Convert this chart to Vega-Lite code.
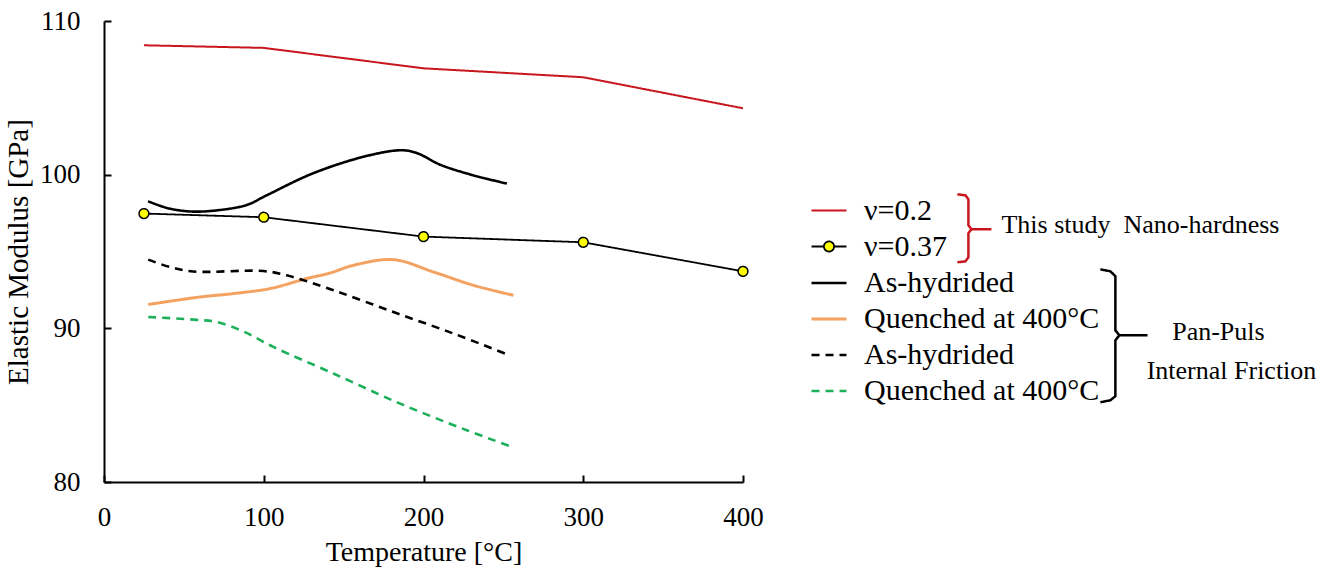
{
  "$schema": "https://vega.github.io/schema/vega-lite/v6.json",
  "width": 639,
  "height": 461,
  "autosize": {"type": "none"},
  "padding": {"left": 104, "top": 21, "right": 579, "bottom": 89},
  "background": "white",
  "config": {"view": {"stroke": null}, "font": "Liberation Serif"},
  "datasets": {
    "curves": [
      {"series": "ν=0.2", "T": 25, "E": 108.42},
      {"series": "ν=0.2", "T": 100, "E": 108.25},
      {"series": "ν=0.2", "T": 200, "E": 106.92},
      {"series": "ν=0.2", "T": 300, "E": 106.34},
      {"series": "ν=0.2", "T": 400, "E": 104.32},
      {"series": "ν=0.37", "T": 25, "E": 97.47},
      {"series": "ν=0.37", "T": 100, "E": 97.23},
      {"series": "ν=0.37", "T": 200, "E": 95.97},
      {"series": "ν=0.37", "T": 300, "E": 95.6},
      {"series": "ν=0.37", "T": 400, "E": 93.71},
      {"series": "As-hydrided (Pan-Puls)", "T": 27.6, "E": 98.27},
      {"series": "As-hydrided (Pan-Puls)", "T": 40.0, "E": 97.82},
      {"series": "As-hydrided (Pan-Puls)", "T": 55.0, "E": 97.6},
      {"series": "As-hydrided (Pan-Puls)", "T": 70.8, "E": 97.68},
      {"series": "As-hydrided (Pan-Puls)", "T": 89.4, "E": 98.03},
      {"series": "As-hydrided (Pan-Puls)", "T": 101.9, "E": 98.66},
      {"series": "As-hydrided (Pan-Puls)", "T": 130.9, "E": 100.09},
      {"series": "As-hydrided (Pan-Puls)", "T": 164.5, "E": 101.22},
      {"series": "As-hydrided (Pan-Puls)", "T": 186.4, "E": 101.59},
      {"series": "As-hydrided (Pan-Puls)", "T": 196.0, "E": 101.4},
      {"series": "As-hydrided (Pan-Puls)", "T": 210.4, "E": 100.65},
      {"series": "As-hydrided (Pan-Puls)", "T": 231.1, "E": 99.96},
      {"series": "As-hydrided (Pan-Puls)", "T": 252.2, "E": 99.42},
      {"series": "Quenched at 400°C (Pan-Puls)", "T": 27.7, "E": 91.55},
      {"series": "Quenched at 400°C (Pan-Puls)", "T": 60.1, "E": 92.04},
      {"series": "Quenched at 400°C (Pan-Puls)", "T": 81.0, "E": 92.26},
      {"series": "Quenched at 400°C (Pan-Puls)", "T": 104.0, "E": 92.59},
      {"series": "Quenched at 400°C (Pan-Puls)", "T": 126.9, "E": 93.24},
      {"series": "Quenched at 400°C (Pan-Puls)", "T": 141.5, "E": 93.6},
      {"series": "Quenched at 400°C (Pan-Puls)", "T": 156.1, "E": 94.1},
      {"series": "Quenched at 400°C (Pan-Puls)", "T": 181.2, "E": 94.47},
      {"series": "Quenched at 400°C (Pan-Puls)", "T": 206.2, "E": 93.67},
      {"series": "Quenched at 400°C (Pan-Puls)", "T": 231.3, "E": 92.8},
      {"series": "Quenched at 400°C (Pan-Puls)", "T": 256.3, "E": 92.15},
      {"series": "As-hydrided (Internal Friction)", "T": 27.7, "E": 94.47},
      {"series": "As-hydrided (Internal Friction)", "T": 41.3, "E": 93.99},
      {"series": "As-hydrided (Internal Friction)", "T": 55.9, "E": 93.7},
      {"series": "As-hydrided (Internal Friction)", "T": 99.8, "E": 93.73},
      {"series": "As-hydrided (Internal Friction)", "T": 114.4, "E": 93.45},
      {"series": "As-hydrided (Internal Friction)", "T": 143.6, "E": 92.48},
      {"series": "As-hydrided (Internal Friction)", "T": 181.2, "E": 91.06},
      {"series": "As-hydrided (Internal Friction)", "T": 218.8, "E": 89.66},
      {"series": "As-hydrided (Internal Friction)", "T": 251.1, "E": 88.36},
      {"series": "Quenched at 400°C (Internal Friction)", "T": 27.7, "E": 90.74},
      {"series": "Quenched at 400°C (Internal Friction)", "T": 58.0, "E": 90.55},
      {"series": "Quenched at 400°C (Internal Friction)", "T": 70.6, "E": 90.41},
      {"series": "Quenched at 400°C (Internal Friction)", "T": 87.2, "E": 89.8},
      {"series": "Quenched at 400°C (Internal Friction)", "T": 106.0, "E": 88.79},
      {"series": "Quenched at 400°C (Internal Friction)", "T": 143.6, "E": 87.06},
      {"series": "Quenched at 400°C (Internal Friction)", "T": 185.4, "E": 85.1},
      {"series": "Quenched at 400°C (Internal Friction)", "T": 227.1, "E": 83.37},
      {"series": "Quenched at 400°C (Internal Friction)", "T": 255.3, "E": 82.29}
    ],
    "redBracket": [
      {"seg": "upper", "ord": 1, "T": 534.2, "E": 98.72},
      {"seg": "upper", "ord": 2, "T": 539.2, "E": 98.66},
      {"seg": "upper", "ord": 3, "T": 541.1, "E": 98.4},
      {"seg": "upper", "ord": 4, "T": 541.1, "E": 96.71},
      {"seg": "upper", "ord": 5, "T": 543.0, "E": 96.45},
      {"seg": "upper", "ord": 6, "T": 555.5, "E": 96.45},
      {"seg": "lower", "ord": 1, "T": 543.0, "E": 96.45},
      {"seg": "lower", "ord": 2, "T": 541.1, "E": 96.19},
      {"seg": "lower", "ord": 3, "T": 541.1, "E": 94.62},
      {"seg": "lower", "ord": 4, "T": 539.2, "E": 94.36},
      {"seg": "lower", "ord": 5, "T": 534.2, "E": 94.3}
    ],
    "blackBracket": [
      {"seg": "upper", "ord": 1, "T": 623.7, "E": 93.84},
      {"seg": "upper", "ord": 2, "T": 630.0, "E": 93.71},
      {"seg": "upper", "ord": 3, "T": 633.1, "E": 93.39},
      {"seg": "upper", "ord": 4, "T": 633.1, "E": 89.87},
      {"seg": "upper", "ord": 5, "T": 635.6, "E": 89.55},
      {"seg": "upper", "ord": 6, "T": 653.2, "E": 89.55},
      {"seg": "lower", "ord": 1, "T": 635.6, "E": 89.55},
      {"seg": "lower", "ord": 2, "T": 633.1, "E": 89.22},
      {"seg": "lower", "ord": 3, "T": 633.1, "E": 85.58},
      {"seg": "lower", "ord": 4, "T": 630.0, "E": 85.32},
      {"seg": "lower", "ord": 5, "T": 623.7, "E": 85.19}
    ],
    "groupLabels": [
      {"label": "This study\u00a0 Nano-hardness", "T": 648.8, "E": 96.71},
      {"label": "Pan-Puls", "T": 697.6, "E": 89.74},
      {"label": "Internal Friction", "T": 705.8, "E": 87.2}
    ]
  },
  "encoding": {
    "x": {
      "field": "T",
      "type": "quantitative",
      "scale": {"domain": [0, 400], "nice": false, "zero": false},
      "axis": {
        "title": "Temperature [°C]",
        "values": [0, 100, 200, 300, 400],
        "grid": false,
        "domainColor": "black",
        "domainWidth": 2,
        "tickColor": "black",
        "tickWidth": 2,
        "tickSize": -7,
        "labelFont": "Liberation Serif",
        "labelFontSize": 27,
        "labelColor": "black",
        "labelPadding": 29,
        "labelFlush": false,
        "titleFont": "Liberation Serif",
        "titleFontSize": 28,
        "titleFontWeight": "normal",
        "titleColor": "black",
        "titlePadding": 8
      }
    },
    "y": {
      "field": "E",
      "type": "quantitative",
      "scale": {"domain": [80, 110], "nice": false, "zero": false},
      "axis": {
        "title": "Elastic Modulus [GPa]",
        "values": [80, 90, 100, 110],
        "grid": false,
        "domainColor": "black",
        "domainWidth": 2,
        "tickColor": "black",
        "tickWidth": 2,
        "tickSize": -7,
        "labelFont": "Liberation Serif",
        "labelFontSize": 27,
        "labelColor": "black",
        "labelPadding": 31,
        "labelFlush": false,
        "titleFont": "Liberation Serif",
        "titleFontSize": 29,
        "titleFontWeight": "normal",
        "titleColor": "black",
        "titlePadding": 6
      }
    },
    "color": {
      "field": "series",
      "type": "nominal",
      "scale": {
        "domain": ["ν=0.2", "ν=0.37", "As-hydrided (Pan-Puls)", "Quenched at 400°C (Pan-Puls)", "As-hydrided (Internal Friction)", "Quenched at 400°C (Internal Friction)"],
        "range": ["#C8161D", "#000000", "#000000", "#F4A261", "#000000", "#1DB05A"]
      },
      "legend": {
        "title": null,
        "orient": "none",
        "legendX": 706,
        "legendY": 171,
        "padding": 0,
        "symbolType": "stroke",
        "symbolSize": 1225,
        "symbolStrokeWidth": 2.5,
        "labelOffset": 16,
        "labelFont": "Liberation Serif",
        "labelFontSize": 30,
        "labelColor": "black",
        "labelLimit": 400,
        "rowPadding": 2,
        "labelExpr": "split(datum.label, ' (')[0]",
        "encoding": {
          "symbols": {
            "shape": {"condition": {"test": "datum.value === 'ν=0.37'", "value": "M-1,0H-0.29M0.29,0H1M0.29,0A0.29,0.29,0,1,1,-0.29,0A0.29,0.29,0,1,1,0.29,0Z"}, "value": "stroke"},
            "fill": {"condition": {"test": "datum.value === 'ν=0.37'", "value": "#FFFF00"}, "value": "transparent"},
            "strokeWidth": {"condition": {"test": "datum.value === 'ν=0.2' || datum.value === 'ν=0.37'", "value": 1.8}, "value": 2.6}
          }
        }
      }
    },
    "strokeDash": {
      "field": "series",
      "type": "nominal",
      "scale": {
        "domain": ["ν=0.2", "ν=0.37", "As-hydrided (Pan-Puls)", "Quenched at 400°C (Pan-Puls)", "As-hydrided (Internal Friction)", "Quenched at 400°C (Internal Friction)"],
        "range": [[1, 0], [1, 0], [1, 0], [1, 0], [8, 6], [8, 6]]
      },
      "legend": {
        "title": null,
        "orient": "none",
        "legendX": 706,
        "legendY": 171,
        "padding": 0,
        "symbolType": "stroke",
        "symbolSize": 1225,
        "symbolStrokeWidth": 2.5,
        "labelOffset": 16,
        "labelFont": "Liberation Serif",
        "labelFontSize": 30,
        "labelColor": "black",
        "labelLimit": 400,
        "rowPadding": 2,
        "labelExpr": "split(datum.label, ' (')[0]",
        "encoding": {
          "symbols": {
            "shape": {"condition": {"test": "datum.value === 'ν=0.37'", "value": "M-1,0H-0.29M0.29,0H1M0.29,0A0.29,0.29,0,1,1,-0.29,0A0.29,0.29,0,1,1,0.29,0Z"}, "value": "stroke"},
            "fill": {"condition": {"test": "datum.value === 'ν=0.37'", "value": "#FFFF00"}, "value": "transparent"},
            "strokeWidth": {"condition": {"test": "datum.value === 'ν=0.2' || datum.value === 'ν=0.37'", "value": 1.8}, "value": 2.6}
          }
        }
      }
    },
    "strokeWidth": {
      "field": "series",
      "type": "nominal",
      "scale": {
        "type": "ordinal",
        "domain": ["ν=0.2", "ν=0.37", "As-hydrided (Pan-Puls)", "Quenched at 400°C (Pan-Puls)", "As-hydrided (Internal Friction)", "Quenched at 400°C (Internal Friction)"],
        "range": [2, 1.8, 2.6, 3, 2.6, 2.6]
      },
      "legend": null
    }
  },
  "layer": [
    {
      "data": {"name": "curves"},
      "transform": [{"filter": "datum.series === 'ν=0.2' || datum.series === 'ν=0.37'"}],
      "mark": {"type": "line", "interpolate": "linear"}
    },
    {
      "data": {"name": "curves"},
      "transform": [{"filter": "datum.series !== 'ν=0.2' && datum.series !== 'ν=0.37'"}],
      "mark": {"type": "line", "interpolate": "catmull-rom"}
    },
    {
      "data": {"name": "curves"},
      "transform": [{"filter": "datum.series === 'ν=0.37'"}],
      "mark": {"type": "point", "shape": "circle", "filled": true, "fill": "#FFFF00", "stroke": "#000000", "strokeWidth": 1.5, "size": 95, "opacity": 1},
      "encoding": {"color": {"value": "#FFFF00"}, "strokeDash": {"value": [1, 0]}, "strokeWidth": {"value": 1.5}}
    },
    {
      "data": {"name": "redBracket"},
      "mark": {"type": "line", "strokeWidth": 2.5, "clip": false},
      "encoding": {"detail": {"field": "seg"}, "order": {"field": "ord", "type": "quantitative"}, "color": {"value": "#C8161D"}, "strokeDash": {"value": [1, 0]}, "strokeWidth": {"value": 2.5}}
    },
    {
      "data": {"name": "blackBracket"},
      "mark": {"type": "line", "strokeWidth": 2.5, "clip": false},
      "encoding": {"detail": {"field": "seg"}, "order": {"field": "ord", "type": "quantitative"}, "color": {"value": "#000000"}, "strokeDash": {"value": [1, 0]}, "strokeWidth": {"value": 2.5}}
    },
    {
      "data": {"name": "groupLabels"},
      "mark": {"type": "text", "font": "Liberation Serif", "fontSize": 26, "baseline": "middle", "align": "center", "clip": false},
      "encoding": {"text": {"field": "label"}, "color": {"value": "black"}, "strokeDash": {"value": [1, 0]}, "strokeWidth": {"value": 0}}
    }
  ]
}
